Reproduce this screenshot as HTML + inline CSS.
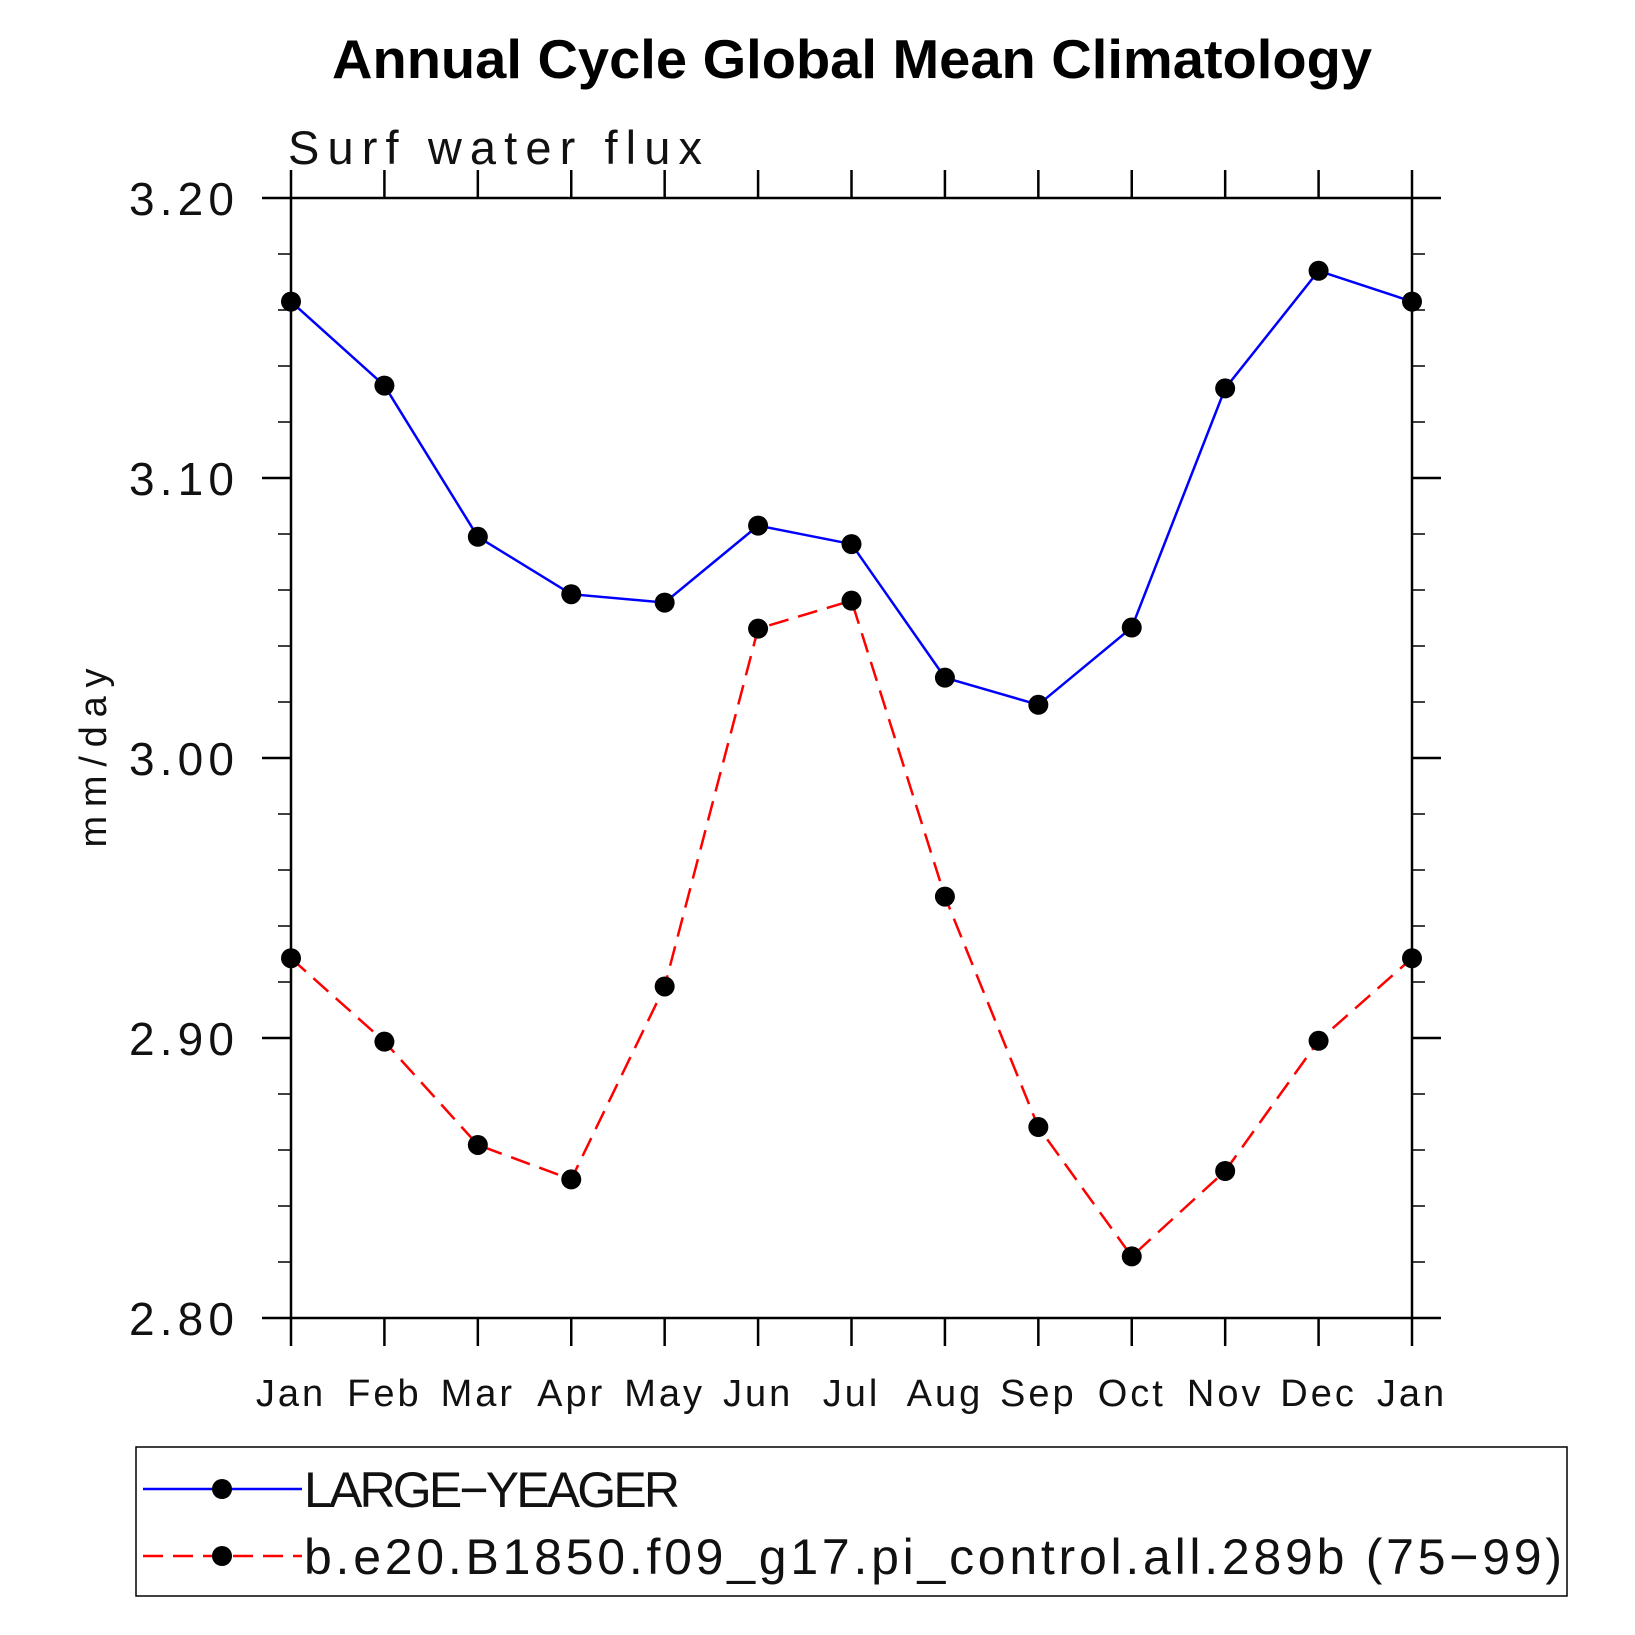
<!DOCTYPE html>
<html><head><meta charset="utf-8"><style>
html,body{margin:0;padding:0;background:#fff}
svg{display:block}
text{font-family:"Liberation Sans",sans-serif}
</style></head><body>
<svg id="chart" width="1635" height="1635" viewBox="0 0 1635 1635" xmlns="http://www.w3.org/2000/svg">
<text x="332" y="78" font-size="55" font-weight="bold" textLength="1040" lengthAdjust="spacingAndGlyphs">Annual Cycle Global Mean Climatology</text>
<text x="288" y="164" font-size="47" fill="#111" textLength="414" lengthAdjust="spacing">Surf water flux</text>
<text transform="translate(106,758) rotate(-90)" text-anchor="middle" font-size="38" fill="#111" textLength="179" lengthAdjust="spacing">mm/day</text>
<g id="axes"></g>
<g id="series"></g>
<g>
<rect x="136" y="1447" width="1431" height="149" fill="none" stroke="#000" stroke-width="1.5"/>
<g>
<line x1="143" y1="1489" x2="302" y2="1489" stroke="#0000ff" stroke-width="2.5"/>
<circle cx="222" cy="1489" r="10" fill="#000"/>
<text x="304" y="1507" font-size="50" fill="#111" textLength="376" lengthAdjust="spacing">LARGE−YEAGER</text>
</g>
<g>
<line x1="143" y1="1556" x2="302" y2="1556" stroke="#ff0000" stroke-width="2.5" stroke-dasharray="20,10"/>
<circle cx="222" cy="1556" r="10" fill="#000"/>
<text x="304" y="1574" font-size="50" fill="#111" textLength="1258" lengthAdjust="spacing">b.e20.B1850.f09_g17.pi_control.all.289b (75−99)</text>
</g>
</g>
</svg>
<script>
const months = ["Jan","Feb","Mar","Apr","May","Jun","Jul","Aug","Sep","Oct","Nov","Dec","Jan"];
const largeYeager = [3.163,3.133,3.079,3.0585,3.0555,3.083,3.0764,3.0287,3.019,3.0466,3.132,3.174,3.163];
const control = [2.9285,2.8987,2.8618,2.8495,2.9184,3.0462,3.0562,2.9505,2.8682,2.822,2.8525,2.899,2.9285];
const yTicks = [2.80,2.90,3.00,3.10,3.20];
const yTickLabels = ["2.80","2.90","3.00","3.10","3.20"];

const NS="http://www.w3.org/2000/svg";
const X0=291,X1=1412,Y0=198,Y1=1318,YMIN=2.8,YMAX=3.2;
const xs=i=>X0+(X1-X0)*i/(months.length-1);
const ys=v=>Y1-(v-YMIN)/(YMAX-YMIN)*(Y1-Y0);
function mk(tag,attrs,parent){const e=document.createElementNS(NS,tag);for(const k in attrs)e.setAttribute(k,attrs[k]);parent.appendChild(e);return e;}
const axes=document.getElementById('axes'),series=document.getElementById('series');
const frame=mk('rect',{x:X0,y:Y0,width:X1-X0,height:Y1-Y0,fill:'none',stroke:'#000','stroke-width':2.5},axes);


months.forEach((m,i)=>{
  const x=xs(i);
  mk('line',{x1:x,y1:Y1,x2:x,y2:Y1+28,stroke:'#000','stroke-width':2.5},axes);
  mk('line',{x1:x,y1:Y0,x2:x,y2:Y0-28,stroke:'#000','stroke-width':2.5},axes);
  const t=mk('text',{x:x,y:1406,'text-anchor':'middle','font-size':38,fill:'#111','letter-spacing':'3'},axes);
  t.textContent=m;
  
  
});
for(let v=YMIN;v<=YMAX+1e-9;v+=0.02){
  const y=ys(v);const major=Math.abs(Math.round(v*10)-v*10)<1e-6;
  const L=major?29:13;
  mk('line',{x1:X0-L,y1:y,x2:X0,y2:y,stroke:'#000','stroke-width':major?2.5:1.5},axes);
  mk('line',{x1:X1,y1:y,x2:X1+L,y2:y,stroke:'#000','stroke-width':major?2.5:1.5},axes);
}
yTicks.forEach((v,i)=>{
  const t=mk('text',{x:129,y:ys(v)+17,'font-size':46,fill:'#111',textLength:105,lengthAdjust:'spacing'},axes);
  t.textContent=yTickLabels[i];
  
  
});
function draw(data,color,dash,name){
  const p=mk('polyline',{points:data.map((v,i)=>xs(i)+','+ys(v)).join(' '),fill:'none',stroke:color,'stroke-width':2.5,'stroke-dasharray':dash},series);
  
  
  data.forEach((v,i)=>{
    const c=mk('circle',{cx:xs(i),cy:ys(v),r:10,fill:'#000'},series);
    
    
  });
}
draw(control,'#ff0000','20,10','control');
draw(largeYeager,'#0000ff','none','large-yeager');
</script>
</body></html>
